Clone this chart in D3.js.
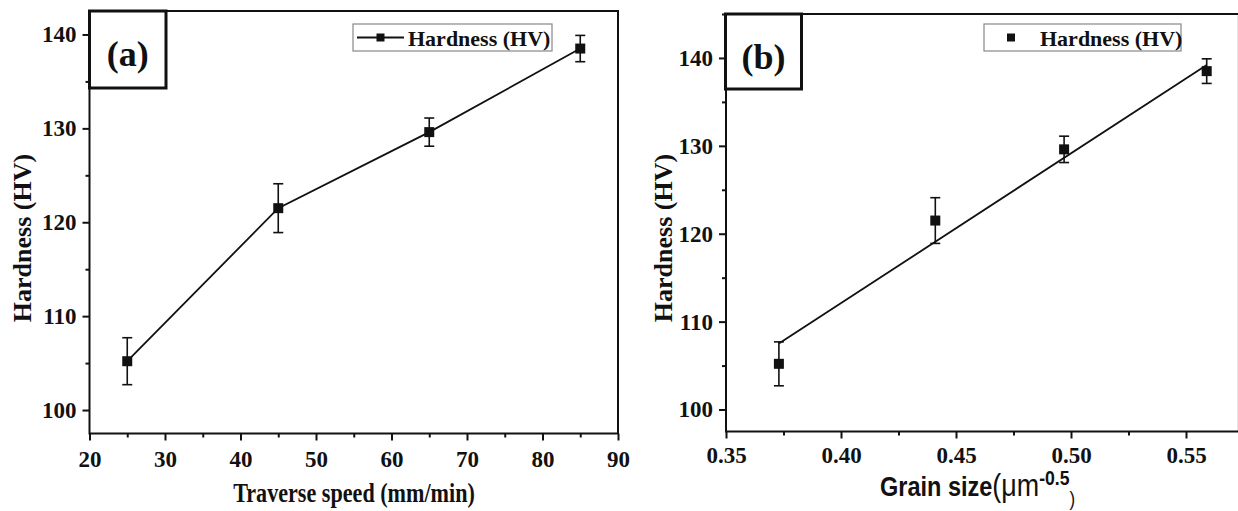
<!DOCTYPE html>
<html>
<head>
<meta charset="utf-8">
<script src="https://cdn.jsdelivr.net/npm/d3@7"></script>
<style>
  body { margin: 0; background: #fff; }
  svg { display: block; }
</style>
</head>
<body>
<svg id="chart" width="1238" height="511"></svg>
<script>
// values
var speed = [25, 45, 65, 85];                 // traverse speed (mm/min)
var grainSize = [0.373, 0.441, 0.497, 0.559]; // grain size^-0.5
var hardness = [105.2, 121.5, 129.6, 138.5];  // HV
var hardnessErr = [2.5, 2.6, 1.5, 1.4];
var fitGrain = [0.373, 0.559];                // linear fit end points (panel b)
var fitHardness = [107.5, 139.2];
var speedTicks = [20, 30, 40, 50, 60, 70, 80, 90];
var grainTicks = [0.35, 0.40, 0.45, 0.50, 0.55];
var hardTicks = [100, 110, 120, 130, 140];
var legendLabel = 'Hardness (HV)';

var serif = '"Liberation Serif", "Times New Roman", serif';
var sans = '"Liberation Sans", Arial, sans-serif';
var ink = '#111';

var svg = d3.select('#chart');

function drawPanel(o) {
    var g = svg.append('g');
    var x = d3.scaleLinear().domain(o.xDomain).range(o.xRange);
    var y = d3.scaleLinear().domain(o.yDomain).range(o.yRange);

    // minor ticks first, major on top
    var xMinor = d3.axisBottom(x).tickValues(o.xMinor).tickSize(4).tickFormat('');
    var yMinor = d3.axisLeft(y).tickValues(o.yMinor).tickSize(4).tickFormat('');
    var xMajor = d3.axisBottom(x).tickValues(o.xTicks).tickSize(7).tickPadding(o.xPad).tickFormat(o.xFmt);
    var yMajor = d3.axisLeft(y).tickValues(hardTicks).tickSize(7).tickPadding(6).tickFormat(d3.format('d'));

    [[xMinor, 'x'], [xMajor, 'x'], [yMinor, 'y'], [yMajor, 'y']].forEach(function(a) {
        var ag = g.append('g')
            .attr('transform', a[1] === 'x' ? 'translate(0,' + o.yRange[0] + ')' : 'translate(' + o.xRange[0] + ',0)')
            .call(a[0]);
        ag.select('.domain').remove();
        ag.selectAll('line').attr('stroke', ink).attr('stroke-width', 2);
        ag.selectAll('text')
            .attr('font-family', serif)
            .attr('font-weight', 'bold')
            .attr('font-size', 23)
            .attr('fill', ink);
    });

    // frame
    g.append('rect')
        .attr('x', o.xRange[0]).attr('y', o.yRange[1])
        .attr('width', o.xRange[1] - o.xRange[0])
        .attr('height', o.yRange[0] - o.yRange[1])
        .attr('fill', 'none').attr('stroke', ink).attr('stroke-width', 2);

    var pts = o.xs.map(function(v, i) { return { x: v, y: hardness[i], e: hardnessErr[i] }; });

    // connecting line or fit line
    var line = d3.line().x(function(d) { return x(d[0]); }).y(function(d) { return y(d[1]); });
    g.append('path')
        .datum(o.lineData)
        .attr('d', line)
        .attr('fill', 'none').attr('stroke', ink).attr('stroke-width', 1.8);

    // error bars
    var eb = g.selectAll('.eb').data(pts).enter().append('g').attr('class', 'eb')
        .attr('stroke', ink).attr('stroke-width', 1.6);
    eb.append('line')
        .attr('x1', function(d) { return x(d.x); }).attr('x2', function(d) { return x(d.x); })
        .attr('y1', function(d) { return y(d.y - d.e); }).attr('y2', function(d) { return y(d.y + d.e); });
    eb.append('line')
        .attr('x1', function(d) { return x(d.x) - 5; }).attr('x2', function(d) { return x(d.x) + 5; })
        .attr('y1', function(d) { return y(d.y + d.e); }).attr('y2', function(d) { return y(d.y + d.e); });
    eb.append('line')
        .attr('x1', function(d) { return x(d.x) - 5; }).attr('x2', function(d) { return x(d.x) + 5; })
        .attr('y1', function(d) { return y(d.y - d.e); }).attr('y2', function(d) { return y(d.y - d.e); });

    // square markers
    g.selectAll('.pt').data(pts).enter().append('rect').attr('class', 'pt')
        .attr('x', function(d) { return x(d.x) - 5; })
        .attr('y', function(d) { return y(d.y) - 5; })
        .attr('width', 10).attr('height', 10)
        .attr('fill', ink);

    // panel label box
    var lb = o.labelBox;
    g.append('rect')
        .attr('x', lb[0]).attr('y', lb[1]).attr('width', lb[2]).attr('height', lb[3])
        .attr('fill', '#fff').attr('stroke', ink).attr('stroke-width', 3);
    g.append('text')
        .attr('x', lb[0] + lb[2] / 2).attr('y', lb[1] + 55)
        .attr('text-anchor', 'middle')
        .attr('font-family', serif).attr('font-weight', 'bold').attr('font-size', 36)
        .attr('fill', ink)
        .text(o.label);

    // legend
    var lg = o.legend;
    g.append('rect')
        .attr('x', lg.x).attr('y', 24).attr('width', lg.w).attr('height', 27)
        .attr('fill', '#fff').attr('stroke', '#888').attr('stroke-width', 1.2);
    if (lg.line) {
        g.append('line')
            .attr('x1', lg.x + 4).attr('x2', lg.x + 51).attr('y1', 37.5).attr('y2', 37.5)
            .attr('stroke', ink).attr('stroke-width', 1.8);
    }
    g.append('rect')
        .attr('x', lg.mx - 4).attr('y', 33.5).attr('width', 8).attr('height', 8)
        .attr('fill', ink);
    g.append('text')
        .attr('x', lg.tx).attr('y', 46)
        .attr('font-family', serif).attr('font-weight', 'bold').attr('font-size', 22)
        .attr('fill', ink)
        .text(legendLabel);

    // y title
    g.append('text')
        .attr('transform', 'translate(' + o.yTitleX + ',238) rotate(-90)')
        .attr('text-anchor', 'middle')
        .attr('font-family', serif).attr('font-weight', 'bold').attr('font-size', 26)
        .attr('fill', ink)
        .text(legendLabel);

    return { g: g, x: x, y: y };
}

// panel (a)
var pa = drawPanel({
    xDomain: [20, 90], xRange: [89.5, 618],
    yDomain: [97.5, 142.5], yRange: [433.5, 11],
    xTicks: speedTicks, xMinor: d3.range(25, 90, 10),
    yMinor: [105, 115, 125, 135],
    xFmt: d3.format('d'), xPad: 10,
    xs: speed,
    lineData: speed.map(function(v, i) { return [v, hardness[i]]; }),
    label: '(a)', labelBox: [89.5, 11, 76.5, 77],
    legend: { x: 353, w: 199, line: true, mx: 380.5, tx: 408 },
    yTitleX: 31
});
pa.g.append('g')
    .attr('transform', 'translate(354,502) scale(0.82,1)')
    .append('text')
    .attr('text-anchor', 'middle')
    .attr('font-family', serif).attr('font-weight', 'bold').attr('font-size', 27)
    .attr('fill', ink)
    .text('Traverse speed (mm/min)');

// panel (b)
var pb = drawPanel({
    xDomain: [0.35, 0.573], xRange: [726, 1238.9],
    yDomain: [97.5, 145], yRange: [431.5, 14],
    xTicks: grainTicks, xMinor: [0.375, 0.425, 0.475, 0.525],
    yMinor: [105, 115, 125, 135, 145],
    xFmt: d3.format('.2f'), xPad: 8,
    xs: grainSize,
    lineData: fitGrain.map(function(v, i) { return [v, fitHardness[i]]; }),
    label: '(b)', labelBox: [725.5, 14, 76, 75],
    legend: { x: 984, w: 197, line: false, mx: 1011, tx: 1040 },
    yTitleX: 672
});
var bt = pb.g.append('g')
    .attr('transform', 'translate(880,496) scale(0.84,1)')
    .append('text')
    .attr('font-family', sans).attr('font-size', 28)
    .attr('fill', ink);
bt.append('tspan').attr('font-weight', 'bold').text('Grain size');
bt.append('tspan').attr('font-size', 32).text('(\u03bcm');
bt.append('tspan').attr('font-weight', 'bold').attr('font-size', 21).attr('dy', -11).text('-0.5');
bt.append('tspan').attr('font-size', 20).attr('dy', 21).text(')');
</script>
</body>
</html>
